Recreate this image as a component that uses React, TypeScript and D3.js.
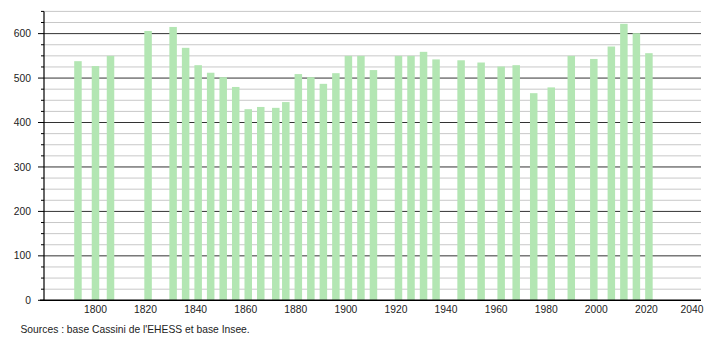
import React from "react";
import * as d3 from "d3";

const years = [1793, 1800, 1806, 1821, 1831, 1836, 1841, 1846, 1851, 1856, 1861, 1866, 1872, 1876, 1881, 1886, 1891, 1896, 1901, 1906, 1911, 1921, 1926, 1931, 1936, 1946, 1954, 1962, 1968, 1975, 1982, 1990, 1999, 2006, 2011, 2016, 2021];
const population = [538, 527, 550, 606, 615, 568, 529, 512, 502, 480, 430, 435, 433, 446, 509, 502, 487, 511, 550, 550, 518, 550, 550, 559, 542, 540, 535, 526, 529, 466, 479, 550, 543, 571, 622, 601, 556];
const xTicks = [1800, 1820, 1840, 1860, 1880, 1900, 1920, 1940, 1960, 1980, 2000, 2020, 2040];
const yMajor = [0, 100, 200, 300, 400, 500, 600];
const sourceText = "Sources : base Cassini de l'EHESS et base Insee.";

const W = 710;
const H = 340;
const FONT = "'Liberation Sans', Arial, sans-serif";
const FS = 10.3;

export default function App() {
  const x = d3.scaleLinear().domain([1780, 2042]).range([45.4, 701.5]);
  const y = d3.scaleLinear().domain([0, 650]).range([300.3, 11.4]);
  const minor = d3.range(0, 651, 25);
  const barW = 7.5;
  const axisX = 44;
  const right = 701;

  return (
    <svg width={W} height={H} style={{ position: "absolute", left: 0, top: 0, background: "#fff" }}>
      {minor.map((v) =>
        v === 0 ? null : (
          <line key={"g" + v} x1={axisX} x2={right} y1={y(v)} y2={y(v)}
            stroke={v % 100 === 0 ? "#333" : "#c8c8c8"} strokeWidth={1} />
        )
      )}
      {years.map((yr, i) => (
        <rect key={yr} x={x(yr) - barW / 2} y={y(population[i])} width={barW}
          height={y(0) - y(population[i])} fill="#b3e6b3" />
      ))}
      <line x1={axisX} x2={axisX} y1={y(650)} y2={y(0)} stroke="#000" strokeWidth={1.2} />
      {minor.map((v) => (
        <line key={"t" + v} x1={v % 100 === 0 ? axisX - 6 : axisX - 3} x2={axisX} y1={y(v)} y2={y(v)}
          stroke="#000" strokeWidth={1} />
      ))}
      {yMajor.map((v) => (
        <text key={"yl" + v} x={31} y={y(v)} dy="0.35em" textAnchor="end"
          fontFamily={FONT} fontSize={FS} fill="#222">{v}</text>
      ))}
      <line x1={axisX - 4} x2={right} y1={y(0)} y2={y(0)} stroke="#000" strokeWidth={1.4} />
      {xTicks.map((t) => {
        const cx = Math.min(x(t), right - 9);
        return (
          <text key={"xl" + t} x={cx} y={312.6} textAnchor="middle"
            fontFamily={FONT} fontSize={FS} fill="#222">{t}</text>
        );
      })}
      <text x={20.5} y={333} fontFamily={FONT} fontSize={FS} fill="#222">{sourceText}</text>
    </svg>
  );
}
